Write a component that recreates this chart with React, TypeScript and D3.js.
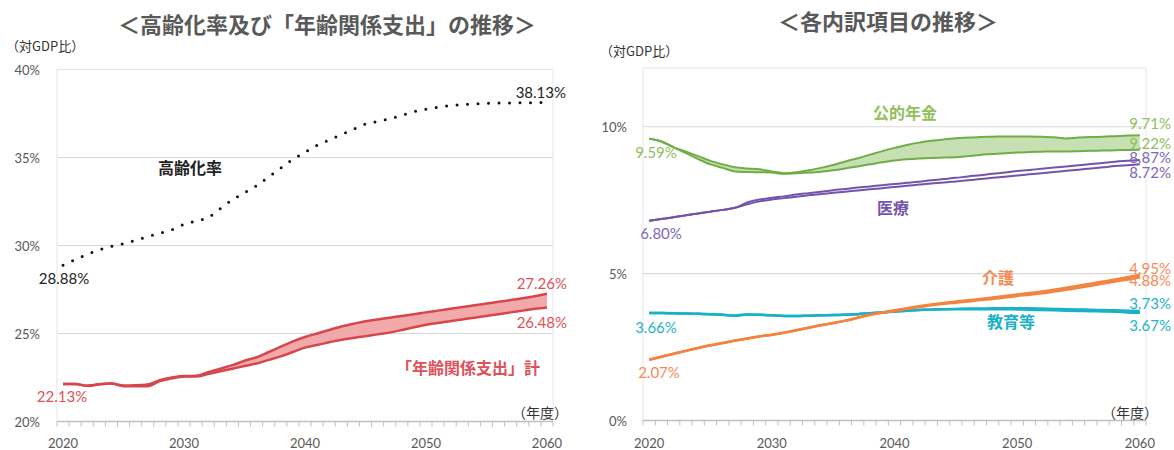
import * as d3 from 'd3';

const years = d3.range(2020, 2061);
const tickYears = [2020, 2030, 2040, 2050, 2060];

// left chart: 高齢化率 / 年齢関係支出
const agingRate = [28.88, 29.2, 29.5, 29.75, 29.95, 30.1, 30.3, 30.5, 30.7, 30.9, 31.2, 31.4, 31.6, 32.1, 32.6, 33.0, 33.4, 33.9, 34.4, 34.9, 35.3, 35.7, 36.0, 36.3, 36.6, 36.9, 37.05, 37.2, 37.4, 37.6, 37.75, 37.85, 37.95, 38.0, 38.05, 38.08, 38.1, 38.1, 38.11, 38.12, 38.13];
const ageExpHigh = [22.13, 22.13, 22.03, 22.12, 22.16, 22.05, 22.06, 22.1, 22.35, 22.5, 22.58, 22.6, 22.8, 23.0, 23.2, 23.45, 23.65, 23.95, 24.25, 24.55, 24.8, 25.0, 25.2, 25.4, 25.55, 25.7, 25.8, 25.9, 26.0, 26.1, 26.2, 26.3, 26.4, 26.5, 26.6, 26.7, 26.8, 26.9, 27.0, 27.12, 27.26];
const ageExpLow = [22.13, 22.13, 22.03, 22.12, 22.16, 22.0, 22.0, 22.0, 22.3, 22.45, 22.55, 22.56, 22.7, 22.85, 23.0, 23.15, 23.3, 23.5, 23.7, 23.95, 24.2, 24.35, 24.5, 24.65, 24.75, 24.85, 24.95, 25.05, 25.2, 25.35, 25.5, 25.6, 25.7, 25.8, 25.9, 26.0, 26.1, 26.2, 26.3, 26.4, 26.48];
const leftTicks = [20, 25, 30, 35, 40];

// right chart: 各内訳項目
const pensionHigh = [9.59, 9.5, 9.3, 9.15, 9.0, 8.84, 8.72, 8.62, 8.58, 8.55, 8.48, 8.42, 8.45, 8.52, 8.6, 8.7, 8.82, 8.93, 9.05, 9.17, 9.28, 9.38, 9.46, 9.52, 9.57, 9.61, 9.63, 9.65, 9.66, 9.67, 9.67, 9.67, 9.66, 9.64, 9.6, 9.63, 9.65, 9.66, 9.68, 9.7, 9.71];
const pensionLow = [9.59, 9.5, 9.3, 9.1, 8.9, 8.72, 8.6, 8.48, 8.46, 8.45, 8.44, 8.4, 8.42, 8.44, 8.47, 8.52, 8.58, 8.65, 8.72, 8.79, 8.85, 8.89, 8.92, 8.94, 8.95, 8.96, 9.0, 9.04, 9.07, 9.1, 9.12, 9.14, 9.15, 9.16, 9.16, 9.17, 9.18, 9.19, 9.2, 9.21, 9.22];
const medicalHigh = [6.8, 6.86, 6.92, 6.99, 7.05, 7.11, 7.17, 7.24, 7.42, 7.52, 7.58, 7.63, 7.69, 7.74, 7.79, 7.84, 7.88, 7.93, 7.97, 8.01, 8.05, 8.09, 8.13, 8.18, 8.22, 8.26, 8.31, 8.35, 8.4, 8.44, 8.49, 8.53, 8.57, 8.61, 8.65, 8.69, 8.73, 8.77, 8.81, 8.84, 8.87];
const medicalLow = [6.8, 6.86, 6.92, 6.99, 7.05, 7.11, 7.17, 7.24, 7.36, 7.46, 7.52, 7.57, 7.62, 7.67, 7.71, 7.75, 7.79, 7.83, 7.87, 7.91, 7.95, 7.99, 8.03, 8.07, 8.1, 8.14, 8.18, 8.22, 8.26, 8.3, 8.34, 8.38, 8.42, 8.46, 8.5, 8.54, 8.58, 8.62, 8.66, 8.69, 8.72];
const careHigh = [2.07, 2.17, 2.27, 2.37, 2.47, 2.56, 2.64, 2.72, 2.79, 2.86, 2.92, 2.99, 3.07, 3.16, 3.24, 3.32, 3.4, 3.5, 3.6, 3.68, 3.75, 3.82, 3.89, 3.95, 4.0, 4.05, 4.09, 4.14, 4.19, 4.24, 4.29, 4.34, 4.39, 4.45, 4.52, 4.59, 4.66, 4.73, 4.8, 4.88, 4.95];
const careLow = [2.07, 2.17, 2.27, 2.37, 2.47, 2.56, 2.64, 2.72, 2.79, 2.86, 2.92, 2.99, 3.07, 3.16, 3.24, 3.32, 3.4, 3.5, 3.6, 3.67, 3.73, 3.8, 3.86, 3.92, 3.97, 4.01, 4.05, 4.1, 4.14, 4.19, 4.24, 4.28, 4.33, 4.39, 4.45, 4.52, 4.59, 4.66, 4.73, 4.8, 4.88];
const eduHigh = [3.66, 3.66, 3.65, 3.64, 3.63, 3.62, 3.6, 3.57, 3.61, 3.6, 3.58, 3.56, 3.56, 3.57, 3.58, 3.59, 3.6, 3.62, 3.65, 3.68, 3.71, 3.74, 3.76, 3.78, 3.79, 3.8, 3.81, 3.81, 3.82, 3.82, 3.82, 3.82, 3.81, 3.8, 3.79, 3.78, 3.77, 3.76, 3.75, 3.74, 3.73];
const eduLow = [3.66, 3.66, 3.65, 3.64, 3.63, 3.62, 3.6, 3.57, 3.61, 3.6, 3.58, 3.56, 3.56, 3.57, 3.58, 3.59, 3.6, 3.62, 3.65, 3.68, 3.71, 3.74, 3.76, 3.78, 3.79, 3.79, 3.79, 3.79, 3.79, 3.79, 3.78, 3.77, 3.76, 3.75, 3.74, 3.73, 3.72, 3.71, 3.7, 3.68, 3.67];
const rightTicks = [0, 5, 10];

const FONT = "Lato, 'Noto Sans CJK JP', sans-serif";
const JP = "'Noto Sans CJK JP', sans-serif";
const AXIS = '#595959';
const GRID = '#d9d9d9';
const FRAME = '#e6e6e6';

type Frame = { left: number; right: number; top: number; bottom: number };

function XAxis({ x, f }: { x: d3.ScaleBand<number>; f: Frame }) {
  const cx = (d: number) => (x(d) as number) + x.bandwidth() / 2;
  return (
    <g>
      <line x1={f.left} x2={f.right} y1={f.bottom} y2={f.bottom} stroke="#bfbfbf" strokeWidth={1.5} />
      {years.map(d => (
        <line key={d} x1={x(d)} x2={x(d)} y1={f.bottom} y2={f.bottom + 5} stroke="#bfbfbf" />
      ))}
      <line x1={f.right} x2={f.right} y1={f.bottom} y2={f.bottom + 5} stroke="#bfbfbf" />
      {tickYears.map(d => (
        <text key={d} x={cx(d)} y={448} textAnchor="middle" fontSize={13} fill={AXIS} fontFamily={FONT}>{d}</text>
      ))}
    </g>
  );
}

function Band({ x, y, hi, lo, stroke, fill, width }: {
  x: d3.ScaleBand<number>; y: d3.ScaleLinear<number, number>; hi: number[]; lo: number[];
  stroke: string; fill: string; width: number;
}) {
  const cx = (i: number) => (x(years[i]) as number) + x.bandwidth() / 2;
  const area = d3.area<number>().x((_, i) => cx(i)).y0((_, i) => y(lo[i])).y1(d => y(d)).curve(d3.curveMonotoneX);
  const line = d3.line<number>().x((_, i) => cx(i)).y(d => y(d)).curve(d3.curveMonotoneX);
  return (
    <g>
      <path d={area(hi) ?? ''} fill={fill} />
      <path d={line(lo) ?? ''} fill="none" stroke={stroke} strokeWidth={width} strokeLinejoin="round" />
      <path d={line(hi) ?? ''} fill="none" stroke={stroke} strokeWidth={width} strokeLinejoin="round" />
    </g>
  );
}

function LeftChart() {
  const f: Frame = { left: 57, right: 553, top: 69.5, bottom: 421.5 };
  const x = d3.scaleBand<number>().domain(years).range([f.left, f.right]);
  const y = d3.scaleLinear().domain([20, 40]).range([f.bottom, f.top]);
  const cx = (i: number) => (x(years[i]) as number) + x.bandwidth() / 2;
  const dotted = d3.line<number>().x((_, i) => cx(i)).y(d => y(d)).curve(d3.curveMonotoneX);
  const red = '#d6474d';
  const redText = '#e0505a';
  return (
    <g>
      <text x={327} y={33} textAnchor="middle" fontSize={22} fontWeight="bold" fill={AXIS} fontFamily={JP}>＜高齢化率及び「年齢関係支出」の推移＞</text>
      <text x={6} y={51} fontSize={13} fill="#333" fontFamily={JP}>（対GDP比）</text>
      <rect x={f.left} y={f.top} width={f.right - f.left} height={f.bottom - f.top} fill="none" stroke={FRAME} />
      {leftTicks.map(t => (
        <g key={t}>
          {t > 20 && t < 40 && <line x1={f.left} x2={f.right} y1={y(t)} y2={y(t)} stroke={GRID} strokeWidth={1.2} />}
          <text x={40} y={y(t) + 5} textAnchor="end" fontSize={13} fill={AXIS} fontFamily={FONT}>{t}%</text>
        </g>
      ))}
      <XAxis x={x} f={f} />
      <path d={dotted(agingRate) ?? ''} fill="none" stroke="#111" strokeWidth={3} strokeLinecap="round" strokeDasharray="0 10.5" />
      <Band x={x} y={y} hi={ageExpHigh} lo={ageExpLow} stroke={red} fill="#f2a9aa" width={2.5} />
      <text x={64} y={284} textAnchor="middle" fontSize={15} fill="#222" fontFamily={FONT}>{agingRate[0].toFixed(2)}%</text>
      <text x={566} y={98} textAnchor="end" fontSize={15} fill="#222" fontFamily={FONT}>{agingRate[40].toFixed(2)}%</text>
      <text x={62} y={402} textAnchor="middle" fontSize={15} fill={redText} fontFamily={FONT}>{ageExpHigh[0].toFixed(2)}%</text>
      <text x={567} y={289} textAnchor="end" fontSize={15} fill={redText} fontFamily={FONT}>{ageExpHigh[40].toFixed(2)}%</text>
      <text x={567} y={328} textAnchor="end" fontSize={15} fill={redText} fontFamily={FONT}>{ageExpLow[40].toFixed(2)}%</text>
      <text x={190} y={174} textAnchor="middle" fontSize={16} fontWeight="bold" fill="#222" fontFamily={JP}>高齢化率</text>
      <text x={468} y={374} textAnchor="middle" fontSize={16} fontWeight="bold" fill={redText} fontFamily={JP}>「年齢関係支出」計</text>
      <text x={568} y={418} textAnchor="end" fontSize={14} fill="#333" fontFamily={JP}>（年度）</text>
    </g>
  );
}

function RightChart() {
  const f: Frame = { left: 643, right: 1146, top: 68, bottom: 420.5 };
  const x = d3.scaleBand<number>().domain(years).range([f.left, f.right]);
  const y = d3.scaleLinear().domain([0, 12]).range([f.bottom, f.top]);
  const green = '#70ad47', greenText = '#8fc05a';
  const purple = '#7454aa', purpleText = '#7d68b8';
  const orange = '#f28340', orangeText = '#f68a55';
  const teal = '#19b1c6', tealText = '#1fb4c8';
  const endX = 1171;
  return (
    <g>
      <text x={888} y={30} textAnchor="middle" fontSize={22} fontWeight="bold" fill={AXIS} fontFamily={JP}>＜各内訳項目の推移＞</text>
      <text x={600} y={56} fontSize={13} fill="#333" fontFamily={JP}>（対GDP比）</text>
      <rect x={f.left} y={f.top} width={f.right - f.left} height={f.bottom - f.top} fill="none" stroke={FRAME} />
      {rightTicks.map(t => (
        <g key={t}>
          {t > 0 && <line x1={f.left} x2={f.right} y1={y(t)} y2={y(t)} stroke={GRID} strokeWidth={1.2} />}
          <text x={627} y={y(t) + 5} textAnchor="end" fontSize={13} fill={AXIS} fontFamily={FONT}>{t}%</text>
        </g>
      ))}
      <XAxis x={x} f={f} />
      <Band x={x} y={y} hi={pensionHigh} lo={pensionLow} stroke={green} fill="#c6e0b4" width={2} />
      <Band x={x} y={y} hi={medicalHigh} lo={medicalLow} stroke={purple} fill="#ffffff" width={2} />
      <Band x={x} y={y} hi={eduHigh} lo={eduLow} stroke={teal} fill="#9ddbe4" width={2.5} />
      <Band x={x} y={y} hi={careHigh} lo={careLow} stroke={orange} fill="#f9c09e" width={2.5} />

      <text x={656} y={158} textAnchor="middle" fontSize={15} fill={greenText} fontFamily={FONT}>{pensionHigh[0].toFixed(2)}%</text>
      <text x={661} y={239} textAnchor="middle" fontSize={15} fill={purpleText} fontFamily={FONT}>{medicalHigh[0].toFixed(2)}%</text>
      <text x={656} y={333} textAnchor="middle" fontSize={15} fill={tealText} fontFamily={FONT}>{eduHigh[0].toFixed(2)}%</text>
      <text x={659} y={378} textAnchor="middle" fontSize={15} fill={orangeText} fontFamily={FONT}>{careHigh[0].toFixed(2)}%</text>

      <text x={endX} y={129} textAnchor="end" fontSize={15} fill={greenText} fontFamily={FONT}>{pensionHigh[40].toFixed(2)}%</text>
      <text x={endX} y={149} textAnchor="end" fontSize={15} fill={greenText} fontFamily={FONT}>{pensionLow[40].toFixed(2)}%</text>
      <text x={endX} y={163} textAnchor="end" fontSize={15} fill={purpleText} fontFamily={FONT}>{medicalHigh[40].toFixed(2)}%</text>
      <text x={endX} y={178} textAnchor="end" fontSize={15} fill={purpleText} fontFamily={FONT}>{medicalLow[40].toFixed(2)}%</text>
      <text x={endX} y={274} textAnchor="end" fontSize={15} fill={orangeText} fontFamily={FONT}>{careHigh[40].toFixed(2)}%</text>
      <text x={endX} y={286} textAnchor="end" fontSize={15} fill={orangeText} fontFamily={FONT}>{careLow[40].toFixed(2)}%</text>
      <text x={endX} y={309} textAnchor="end" fontSize={15} fill={tealText} fontFamily={FONT}>{eduHigh[40].toFixed(2)}%</text>
      <text x={endX} y={331} textAnchor="end" fontSize={15} fill={tealText} fontFamily={FONT}>{eduLow[40].toFixed(2)}%</text>

      <text x={905} y={119} textAnchor="middle" fontSize={16} fontWeight="bold" fill={greenText} fontFamily={JP}>公的年金</text>
      <text x={893} y={214} textAnchor="middle" fontSize={16} fontWeight="bold" fill={purple} fontFamily={JP}>医療</text>
      <text x={998} y={284} textAnchor="middle" fontSize={16} fontWeight="bold" fill={orangeText} fontFamily={JP}>介護</text>
      <text x={1011} y={328} textAnchor="middle" fontSize={16} fontWeight="bold" fill={teal} fontFamily={JP}>教育等</text>
      <text x={1158} y={418} textAnchor="end" fontSize={14} fill="#333" fontFamily={JP}>（年度）</text>
    </g>
  );
}

export default function App() {
  return (
    <svg width={1174} height={450} style={{ position: 'absolute', left: 0, top: 0, background: '#fff' }}>
      <LeftChart />
      <RightChart />
    </svg>
  );
}
